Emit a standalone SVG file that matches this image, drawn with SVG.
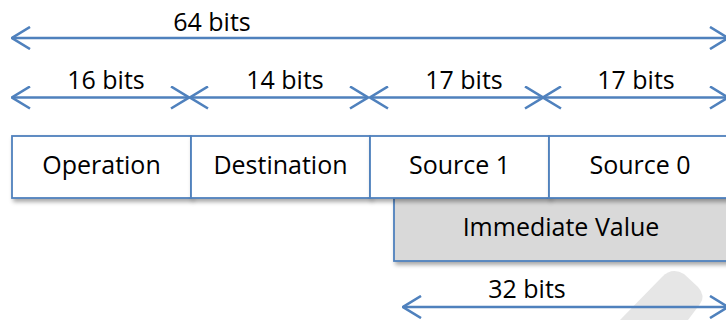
<svg xmlns="http://www.w3.org/2000/svg" width="726" height="320" viewBox="0 0 726 320">
<style>
.lbl{font-family:"Open Sans","Liberation Sans",sans-serif;font-size:25px;fill:#000;text-anchor:middle}
.box{stroke:#4F81BD;stroke-width:1.8}
.conn{stroke:#4F81BD;stroke-width:2.6;fill:none}
</style>
<defs>
<filter id="sh" x="-10%" y="-20%" width="130%" height="160%">
<feDropShadow dx="2" dy="3" stdDeviation="2" flood-color="#000" flood-opacity="0.35"/>
</filter>
<marker id="ah" viewBox="0 0 20 24" refX="19" refY="12" markerWidth="20" markerHeight="24" markerUnits="userSpaceOnUse" orient="auto-start-reverse">
<path d="M1,1 L19,12 L1,23" fill="none" stroke="#4F81BD" stroke-width="2.6"/>
</marker>
</defs>
<rect width="726" height="320" fill="#fff"/>
<path d="M620,320 L662,277 Q672,267 684,274 L698,287 Q706,296 700,304 L688,320 Z" fill="#E6E6E6"/>
<g id="imm">
<rect class="box" x="394" y="198" width="336" height="63" fill="#D9D9D9" filter="url(#sh)"/>
<text class="lbl" x="561" y="236">Immediate Value</text>
</g>
<g id="op">
<rect class="box" x="12" y="136" width="179" height="62" fill="#fff" filter="url(#sh)"/>
<text class="lbl" x="101.5" y="174">Operation</text>
</g>
<g id="dest">
<rect class="box" x="191" y="136" width="179" height="62" fill="#fff" filter="url(#sh)"/>
<text class="lbl" x="280.5" y="174">Destination</text>
</g>
<g id="src1">
<rect class="box" x="370" y="136" width="179" height="62" fill="#fff" filter="url(#sh)"/>
<text class="lbl" x="459.5" y="174">Source 1</text>
</g>
<g id="src0">
<rect class="box" x="549" y="136" width="182" height="62" fill="#fff" filter="url(#sh)"/>
<text class="lbl" x="640" y="174">Source 0</text>
</g>
<g id="connectors">
<line class="conn" x1="12" y1="38" x2="728" y2="38" marker-start="url(#ah)" marker-end="url(#ah)"/>
<line class="conn" x1="12" y1="97.5" x2="189" y2="97.5" marker-start="url(#ah)" marker-end="url(#ah)"/>
<line class="conn" x1="190" y1="97.5" x2="368" y2="97.5" marker-start="url(#ah)" marker-end="url(#ah)"/>
<line class="conn" x1="370" y1="97.5" x2="543" y2="97.5" marker-start="url(#ah)" marker-end="url(#ah)"/>
<line class="conn" x1="543" y1="97.5" x2="728" y2="97.5" marker-start="url(#ah)" marker-end="url(#ah)"/>
<line class="conn" x1="403" y1="307" x2="728" y2="307" marker-start="url(#ah)" marker-end="url(#ah)"/>
</g>
<g id="labels">
<text class="lbl" x="212" y="31">64 bits</text>
<text class="lbl" x="106" y="89">16 bits</text>
<text class="lbl" x="285" y="89">14 bits</text>
<text class="lbl" x="464" y="89">17 bits</text>
<text class="lbl" x="636" y="89">17 bits</text>
<text class="lbl" x="527" y="298">32 bits</text>
</g>
</svg>
